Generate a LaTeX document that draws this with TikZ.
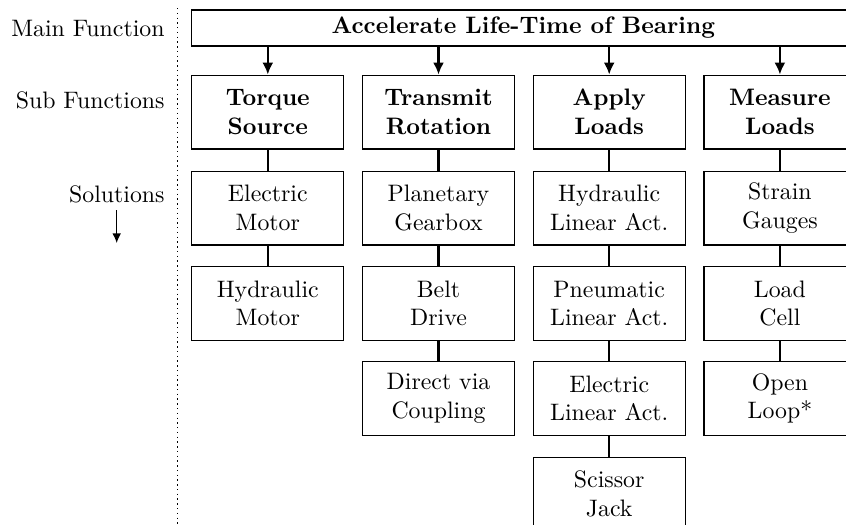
\documentclass[tikz,border=0pt]{standalone}
\usetikzlibrary{arrows.meta}
\begin{document}
\begin{tikzpicture}[x=0.42pt,y=-0.42pt,
  box/.style={draw, line width=0.5pt, align=center, inner sep=0pt,
    minimum width=63.8pt, minimum height=31pt, font=\normalsize},
  subbox/.style={box, font=\bfseries},
  mainbox/.style={draw, line width=0.5pt, inner sep=0pt,
    minimum width=278.5pt, minimum height=15.1pt, font=\bfseries},
  lbl/.style={anchor=east, inner sep=0pt},
  arr/.style={line width=0.9pt, -{Latex[length=5pt,width=4.6pt]}},
  conn/.style={line width=0.9pt},
  baseline=0pt]
\useasboundingbox (0,0) rectangle (846,524);
\clip (0,0) rectangle (846,524);

% dotted separator
\coordinate (dtop) at (177.7,8);
\coordinate (dbot) at (177.7,524);
\draw[line width=0.6pt, dash pattern=on 0.6pt off 1.4pt] (dtop) -- (dbot);

% left labels
\node[lbl] (lmain) at (165,28) {Main Function};
\node[lbl] (lsub) at (165,100) {Sub Functions};
\node[lbl] (lsol) at (165,194) {Solutions};
\coordinate (sa) at (116.7,210);
\coordinate (sb) at (116.7,243);
\draw[line width=0.5pt, -{Latex[length=4pt,width=3.6pt]}] (sa) -- (sb);

% main function
\node[mainbox] (main) at (523.3,28) {Accelerate Life-Time of Bearing};

% sub functions
\node[subbox] (s1) at (267.8,112) {Torque\\Source};
\node[subbox] (s2) at (438.5,112) {Transmit\\Rotation};
\node[subbox] (s3) at (609.2,112) {Apply\\Loads};
\node[subbox] (s4) at (779.9,112) {Measure\\Loads};

\foreach \s in {s1,s2,s3,s4}
  \draw[arr] (main.south -| \s.north) -- (\s.north);

% solutions column 1
\node[box] (a1) at (267.8,208) {Electric\\Motor};
\node[box] (a2) at (267.8,303.5) {Hydraulic\\Motor};
% column 2
\node[box] (b1) at (438.5,208) {Planetary\\Gearbox};
\node[box] (b2) at (438.5,303.5) {Belt\\Drive};
\node[box] (b3) at (438.5,398.5) {Direct via\\Coupling};
% column 3
\node[box] (c1) at (609.2,208) {Hydraulic\\Linear Act.};
\node[box] (c2) at (609.2,303.5) {Pneumatic\\Linear Act.};
\node[box] (c3) at (609.2,398.5) {Electric\\Linear Act.};
\node[box] (c4) at (609.2,494) {Scissor\\Jack};
% column 4
\node[box] (d1) at (779.9,208) {Strain\\Gauges};
\node[box] (d2) at (779.9,303.5) {Load\\Cell};
\node[box] (d3) at (779.9,398.5) {Open\\Loop*};

\draw[conn] (s1) -- (a1);
\draw[conn] (a1) -- (a2);
\draw[conn] (s2) -- (b1);
\draw[conn] (b1) -- (b2);
\draw[conn] (b2) -- (b3);
\draw[conn] (s3) -- (c1);
\draw[conn] (c1) -- (c2);
\draw[conn] (c2) -- (c3);
\draw[conn] (c3) -- (c4);
\draw[conn] (s4) -- (d1);
\draw[conn] (d1) -- (d2);
\draw[conn] (d2) -- (d3);
\end{tikzpicture}
\end{document}
